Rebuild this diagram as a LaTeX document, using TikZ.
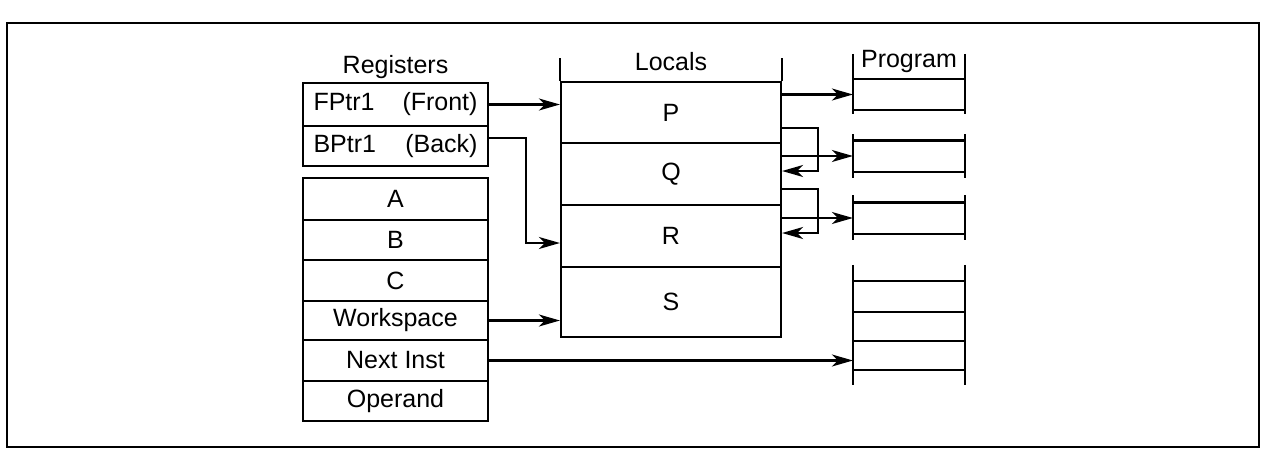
\documentclass[tikz,border=0pt]{standalone}
\usepackage{fontspec}
\setmainfont{Liberation Sans}
\usetikzlibrary{arrows.meta}
\begin{document}
\begin{tikzpicture}[x=0.5pt,y=-0.5pt,
  line width=1.1pt,
  every node/.style={font=\fontsize{12.5}{15}\selectfont},
  cell/.style={draw, rectangle, inner sep=0pt, minimum width=92.5pt},
  loc/.style={draw, rectangle, inner sep=0pt, minimum width=110pt},
  slot/.style={rectangle, inner sep=0pt, minimum width=55pt, minimum height=14.5pt},
  ptr/.style={-{Stealth[length=10.5pt,width=6pt,inset=3pt]}},
  lbl/.style={anchor=base, inner sep=0pt}]
\useasboundingbox (0,0) rectangle (1265,456);
% frame
\draw[line width=1.4pt] (7,23) rectangle (1259,447);

% registers
\node[lbl] (reglbl) at (395.5,73) {Registers};
\node[cell, minimum height=21.5pt] (fptr) at (395.5,104.5) {\makebox[82pt]{FPtr1\hfill(Front)}};
\node[cell, minimum height=20pt] (bptr) at (395.5,146) {\makebox[82pt]{BPtr1\hfill(Back)}};
\node[cell, minimum height=21pt] (ra) at (395.5,199) {A};
\node[cell, minimum height=20pt] (rb) at (395.5,240) {B};
\node[cell, minimum height=20.5pt] (rc) at (395.5,280.5) {C};
\node[cell, minimum height=19.5pt] (ws) at (395.5,320.5) {Workspace};
\node[cell, minimum height=20.5pt] (ni) at (395.5,360.5) {Next Inst};
\node[cell, minimum height=20pt] (op) at (395.5,401) {Operand};

% locals
\node[lbl] (loclbl) at (671,70) {Locals};
\node[loc, minimum height=30.5pt] (P) at (671,112.5) {P};
\node[loc, minimum height=31pt] (Q) at (671,174) {Q};
\node[loc, minimum height=31pt] (R) at (671,236) {R};
\node[loc, minimum height=35pt] (S) at (671,302) {S};
\draw (P.north west) -- ++(0,-23);
\draw (P.north east) -- ++(0,-23);

% program
\node[lbl] (proglbl) at (909,67) {Program};
\node[slot] (pr1) at (909,94.5) {};
\node[slot] (pr2) at (909,156) {};
\node[slot] (pr3) at (909,218) {};
\node[slot] (pr4a) at (909,296.5) {};
\node[slot] (pr4b) at (909,325.5) {};
\node[slot] (pr4c) at (909,354.5) {};

\draw (pr1.north west) -- (pr1.north east) (pr1.south west) -- (pr1.south east);
\draw ([yshift=12.5pt]pr1.north west) -- ([yshift=-2pt]pr1.south west);
\draw ([yshift=12.5pt]pr1.north east) -- ([yshift=-2pt]pr1.south east);

\draw (pr2.north west) -- (pr2.north east) (pr2.south west) -- (pr2.south east);
\draw ([yshift=3pt]pr2.north west) -- ([yshift=-3pt]pr2.south west);
\draw ([yshift=3pt]pr2.north east) -- ([yshift=-3pt]pr2.south east);

\draw (pr3.north west) -- (pr3.north east) (pr3.south west) -- (pr3.south east);
\draw ([yshift=3.5pt]pr3.north west) -- ([yshift=-3pt]pr3.south west);
\draw ([yshift=3.5pt]pr3.north east) -- ([yshift=-3pt]pr3.south east);

\draw (pr4a.north west) -- (pr4a.north east) (pr4a.south west) -- (pr4a.south east)
      (pr4b.south west) -- (pr4b.south east) (pr4c.south west) -- (pr4c.south east);
\draw ([yshift=8pt]pr4a.north west) -- ([yshift=-7.5pt]pr4c.south west);
\draw ([yshift=8pt]pr4a.north east) -- ([yshift=-7.5pt]pr4c.south east);

% connectors
\draw[ptr] (fptr.east) -- (fptr.east -| P.west);
\draw[ptr] ([yshift=4pt]bptr.east) -- ++(37,0) |- ([yshift=-3.5pt]R.west);
\draw[ptr] (ws.east) -- (ws.east -| S.west);
\draw[ptr] (ni.east) -- (ni.east -| pr4c.west);
\draw[ptr] (P.east |- pr1.west) -- (pr1.west);
\draw[ptr] (Q.east |- pr2.west) -- (pr2.west);
\draw[ptr] (R.east |- pr3.west) -- (pr3.west);
\draw[ptr] ([yshift=-7.75pt]P.east) -- ++(36,0) |- ([yshift=1.5pt]Q.east);
\draw[ptr] ([yshift=-7.5pt]Q.east) -- ++(36,0) |- ([yshift=1.5pt]R.east);
\end{tikzpicture}
\end{document}
